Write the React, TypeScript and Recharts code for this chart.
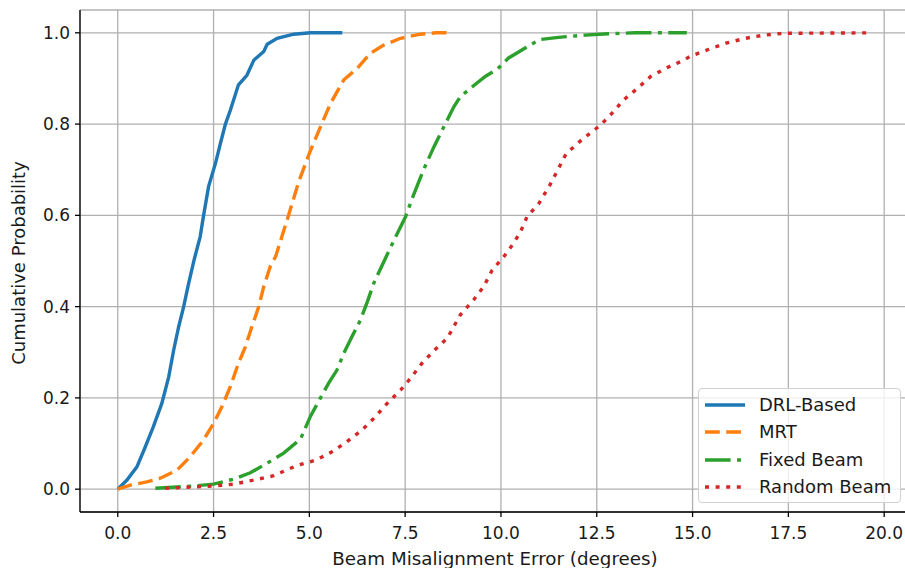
import React from 'react';
import {
  LineChart, Line, XAxis, YAxis, CartesianGrid, Legend, Label,
} from 'recharts';

// tick labels
const X_TICKS = [0, 2.5, 5, 7.5, 10, 12.5, 15, 17.5, 20];
const Y_TICKS = [0, 0.2, 0.4, 0.6, 0.8, 1.0];

const DRL_X = [0, 0.24, 0.5, 0.72, 0.93, 1.15, 1.33, 1.46, 1.59, 1.72, 1.85, 2.0, 2.15, 2.24, 2.37, 2.55, 2.68, 2.81, 2.94, 3.15, 3.37, 3.55, 3.81, 3.9, 4.16, 4.59, 5.03, 5.86];
const DRL_Y = [0, 0.02, 0.049, 0.093, 0.137, 0.188, 0.246, 0.305, 0.356, 0.4, 0.451, 0.505, 0.553, 0.6, 0.663, 0.714, 0.758, 0.8, 0.831, 0.886, 0.907, 0.94, 0.959, 0.975, 0.988, 0.997, 1.0, 1.0];

const MRT_X = [0, 0.33, 0.76, 1.11, 1.55, 1.89, 2.24, 2.5, 2.72, 2.94, 3.15, 3.33, 3.5, 3.68, 3.81, 3.98, 4.12, 4.42, 4.72, 5.0, 5.29, 5.55, 5.9, 6.25, 6.59, 6.94, 7.38, 7.9, 8.3, 8.73];
const MRT_Y = [0, 0.009, 0.016, 0.024, 0.042, 0.071, 0.108, 0.144, 0.181, 0.225, 0.276, 0.312, 0.356, 0.4, 0.444, 0.488, 0.51, 0.59, 0.673, 0.736, 0.794, 0.845, 0.897, 0.922, 0.955, 0.973, 0.988, 0.997, 1.0, 1.0];

const FIXED_X = [0.98, 1.98, 2.5, 3.02, 3.46, 3.9, 4.33, 4.77, 5.03, 5.29, 5.5, 5.72, 5.9, 6.11, 6.33, 6.51, 6.68, 6.94, 7.2, 7.51, 7.72, 7.98, 8.25, 8.51, 8.77, 8.94, 9.3, 9.6, 9.9, 10.2, 10.6, 11.0, 11.5, 12.2, 12.8, 13.5, 14.85];
const FIXED_Y = [0.002, 0.007, 0.011, 0.022, 0.036, 0.057, 0.079, 0.11, 0.16, 0.2, 0.232, 0.261, 0.298, 0.334, 0.37, 0.41, 0.451, 0.498, 0.544, 0.597, 0.645, 0.7, 0.75, 0.794, 0.838, 0.86, 0.885, 0.905, 0.92, 0.945, 0.965, 0.985, 0.99, 0.995, 0.998, 1.0, 1.0];

const RANDOM_X = [1.24, 2.5, 3.02, 3.55, 4.05, 4.68, 5.18, 5.59, 5.98, 6.38, 6.68, 7.03, 7.38, 7.64, 7.94, 8.27, 8.6, 8.94, 9.29, 9.55, 9.77, 10.07, 10.33, 10.51, 10.68, 10.99, 11.3, 11.7, 12.1, 12.6, 12.9, 13.2, 13.56, 13.9, 14.34, 14.77, 14.95, 15.43, 15.9, 16.38, 16.86, 17.38, 19.69];
const RANDOM_Y = [0.002, 0.007, 0.011, 0.02, 0.029, 0.052, 0.064, 0.082, 0.104, 0.13, 0.155, 0.188, 0.217, 0.243, 0.276, 0.305, 0.331, 0.382, 0.415, 0.444, 0.48, 0.509, 0.539, 0.564, 0.597, 0.626, 0.67, 0.735, 0.765, 0.798, 0.824, 0.853, 0.878, 0.904, 0.924, 0.94, 0.949, 0.964, 0.978, 0.988, 0.995, 0.999, 1.0];

const toPoints = (xs: number[], ys: number[]) => xs.map((x, i) => ({ x, y: ys[i] }));

const FONT = 'DejaVu Sans';
const TEXT = '#1a1a1a';

const SERIES = [
  { name: 'DRL-Based', data: toPoints(DRL_X, DRL_Y), color: '#1f77b4', dash: undefined },
  { name: 'MRT', data: toPoints(MRT_X, MRT_Y), color: '#ff7f0e', dash: '14.8 6.4' },
  { name: 'Fixed Beam', data: toPoints(FIXED_X, FIXED_Y), color: '#2ca02c', dash: '25.6 6.4 4 6.4' },
  { name: 'Random Beam', data: toPoints(RANDOM_X, RANDOM_Y), color: '#d62728', dash: '4 6.6' },
];

const renderLegend = () => (
  <div
    style={{
      width: 203,
      height: 115,
      boxSizing: 'border-box',
      border: '1px solid #d0d0d0',
      borderRadius: 4,
      background: 'rgba(255,255,255,0.8)',
      position: 'relative',
    }}
  >
    {SERIES.map((s, i) => (
      <div
        key={s.name}
        style={{
          position: 'absolute',
          left: 0,
          top: 16 + i * 27.4 - 12,
          height: 24,
          display: 'flex',
          alignItems: 'center',
        }}
      >
        <svg width={60} height={24}>
          <line x1={6} x2={46} y1={12} y2={12} stroke={s.color} strokeWidth={3.4} strokeDasharray={s.dash} />
        </svg>
        <span style={{ fontFamily: FONT, fontSize: 18, color: TEXT, lineHeight: '24px' }}>{s.name}</span>
      </div>
    ))}
  </div>
);

export default function App() {
  return (
    <div style={{ position: 'absolute', left: 0, top: 0, width: 905, height: 568, overflow: 'hidden', background: '#fff' }}>
      <LineChart width={911} height={568} margin={{ top: 10, right: 0, bottom: 0, left: 0 }}>
        <CartesianGrid stroke="#b0b0b0" strokeWidth={1.3} />
        <XAxis
          type="number"
          dataKey="x"
          domain={[-0.985, 20.7]}
          allowDataOverflow
          ticks={X_TICKS}
          tickFormatter={(v: number) => v.toFixed(1)}
          height={56}
          tickSize={5}
          tickMargin={10}
          axisLine={{ stroke: '#000', strokeWidth: 1.3 }}
          tickLine={{ stroke: '#000', strokeWidth: 1.3 }}
          tick={{ fill: TEXT, fontSize: 17, fontFamily: FONT }}
        >
          <Label
            content={() => (
              <text x={495} y={565} textAnchor="middle" fontSize={18.3} fontFamily={FONT} fill={TEXT}>
                Beam Misalignment Error (degrees)
              </text>
            )}
          />
        </XAxis>
        <XAxis
          xAxisId="top"
          orientation="top"
          type="number"
          domain={[-0.985, 20.7]}
          height={0}
          tick={false}
          tickLine={false}
          axisLine={{ stroke: '#000', strokeWidth: 1.3 }}
        />
        <YAxis
          type="number"
          domain={[-0.05, 1.05]}
          allowDataOverflow
          ticks={Y_TICKS}
          tickFormatter={(v: number) => v.toFixed(1)}
          width={80}
          tickSize={5}
          tickMargin={5}
          axisLine={{ stroke: '#000', strokeWidth: 1.3 }}
          tickLine={{ stroke: '#000', strokeWidth: 1.3 }}
          tick={{ fill: TEXT, fontSize: 17, fontFamily: FONT }}
        >
          <Label
            content={() => (
              <text
                x={25}
                y={263}
                transform="rotate(-90 25 263)"
                textAnchor="middle"
                fontSize={18}
                fontFamily={FONT}
                fill={TEXT}
              >
                Cumulative Probability
              </text>
            )}
          />
        </YAxis>
        {SERIES.map((s) => (
          <Line
            key={s.name}
            data={s.data}
            dataKey="y"
            name={s.name}
            type="linear"
            stroke={s.color}
            strokeWidth={3.4}
            strokeDasharray={s.dash}
            dot={false}
            activeDot={false}
            isAnimationActive={false}
          />
        ))}
        <Legend
          layout="vertical"
          align="center"
          verticalAlign="middle"
          wrapperStyle={{ left: 698, top: 388, width: 203, height: 115 }}
          content={renderLegend}
        />
      </LineChart>
    </div>
  );
}
